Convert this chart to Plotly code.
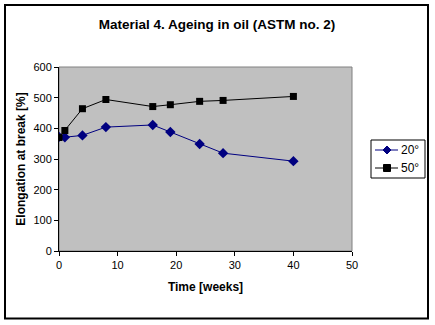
import plotly.graph_objects as go

weeks = [0, 1, 4, 8, 16, 19, 24, 28, 40]
elong_20 = [372, 371, 377, 404, 411, 388, 349, 319, 293]
elong_50 = [370, 393, 464, 494, 471, 477, 488, 491, 504]
series_names = ["20°", "50°"]
series_colors = ["#000080", "#000000"]

fig = go.Figure()
fig.add_trace(go.Scatter(x=weeks, y=elong_20, name=series_names[0], mode="lines+markers",
                         line=dict(color=series_colors[0], width=1),
                         marker=dict(symbol="diamond", size=8, color=series_colors[0])))
fig.add_trace(go.Scatter(x=weeks, y=elong_50, name=series_names[1], mode="lines+markers",
                         line=dict(color=series_colors[1], width=1),
                         marker=dict(symbol="square", size=7, color=series_colors[1])))

L, R, T, B = 59, 352, 67, 251
W, H = 435, 325
pw, ph = R - L, B - T

def px(x):
    return (x - L) / pw

def py(y):
    return (B - y) / ph

shapes = [
    dict(type="rect", xref="paper", yref="paper", x0=0, x1=1, y0=0, y1=1,
         line=dict(color="#808080", width=1), layer="below"),
    dict(type="rect", xref="paper", yref="paper", x0=px(5), x1=px(428), y0=py(5), y1=py(318.5),
         line=dict(color="black", width=2)),
    # legend box
    dict(type="rect", xref="paper", yref="paper", x0=px(371), x1=px(425), y0=py(140), y1=py(178),
         line=dict(color="black", width=1), fillcolor="white"),
]
annotations = []
legend_rows = [150, 168]
for i, (name, col) in enumerate(zip(series_names, series_colors)):
    yy = legend_rows[i]
    shapes.append(dict(type="line", xref="paper", yref="paper", x0=px(375), x1=px(398),
                       y0=py(yy), y1=py(yy), line=dict(color=col, width=1)))
    cx = 387
    if i == 0:
        d = 4
        path = "M {} {} L {} {} L {} {} L {} {} Z".format(
            px(cx), py(yy - d), px(cx + d), py(yy), px(cx), py(yy + d), px(cx - d), py(yy))
        shapes.append(dict(type="path", xref="paper", yref="paper", path=path,
                           fillcolor=col, line=dict(color=col, width=1)))
    else:
        d = 3.5
        shapes.append(dict(type="rect", xref="paper", yref="paper", x0=px(cx - d), x1=px(cx + d),
                           y0=py(yy - d), y1=py(yy + d), fillcolor=col, line=dict(color=col, width=1)))
    annotations.append(dict(text=name, xref="paper", yref="paper", x=px(399), y=py(yy),
                            xanchor="left", yanchor="middle", showarrow=False,
                            font=dict(size=12, color="black")))

fig.update_layout(
    width=W, height=H,
    margin=dict(l=L, r=W - R, t=T, b=H - B, pad=0),
    paper_bgcolor="white",
    plot_bgcolor="#C0C0C0",
    font=dict(family="Arial, Liberation Sans, sans-serif", size=11, color="black"),
    title=dict(text="<b>Material 4. Ageing in oil (ASTM no. 2)</b>", x=217 / W, xref="container",
               xanchor="center", y=1 - 24 / H, yanchor="middle",
               font=dict(size=13.5, color="black")),
    showlegend=False,
    xaxis=dict(range=[0, 50], tickvals=[0, 10, 20, 30, 40, 50], showgrid=False, zeroline=False,
               showline=True, linecolor="black", linewidth=1, ticks="outside", ticklen=4,
               tickcolor="black",
               title=dict(text="<b>Time [weeks]</b>", font=dict(size=12), standoff=12)),
    yaxis=dict(range=[0, 600], tickvals=[0, 100, 200, 300, 400, 500, 600], showgrid=False,
               zeroline=False, showline=True, linecolor="black", linewidth=1, ticks="outside",
               ticklen=4, tickcolor="black",
               title=dict(text="<b>Elongation at break [%]</b>", font=dict(size=12), standoff=5)),
    shapes=shapes,
    annotations=annotations,
)

fig.write_html("out.html")
